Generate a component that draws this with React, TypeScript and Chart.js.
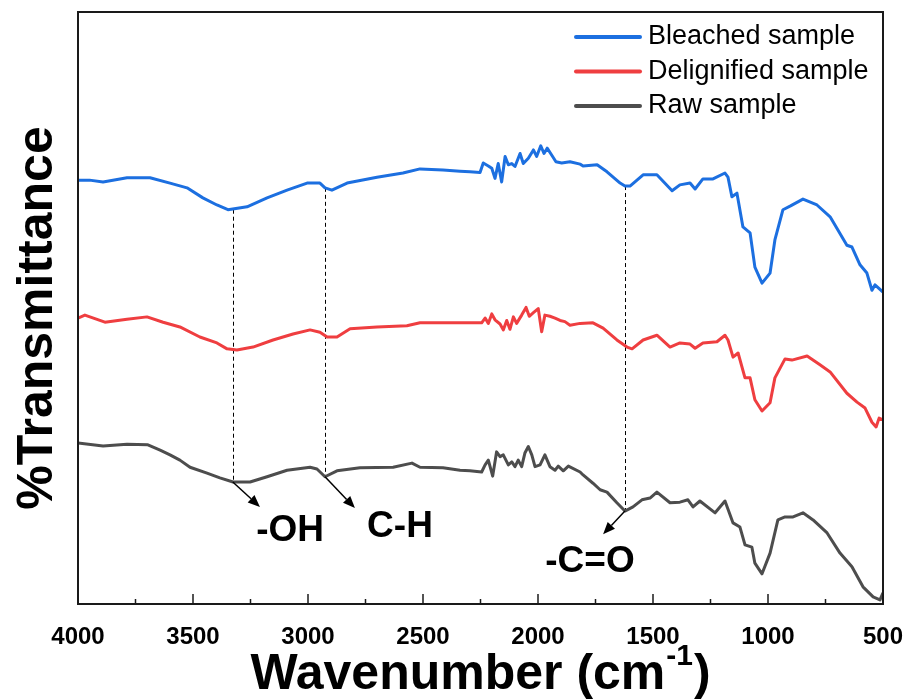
import React, { useEffect, useRef } from "react";
import { Chart, registerables } from "chart.js";

Chart.register(...registerables);

const FONT = "'Liberation Sans', Arial, sans-serif";

// Bleached sample
const bleachedWave = [4000, 3950, 3891, 3787, 3687, 3600, 3526, 3457, 3396, 3348, 3265, 3178, 3091, 3004, 2948, 2926, 2896, 2830, 2700, 2587, 2513, 2413, 2339, 2296, 2252, 2238, 2216, 2201, 2187, 2173, 2158, 2143, 2129, 2114, 2100, 2078, 2064, 2042, 2020, 2006, 1988, 1974, 1960, 1940, 1922, 1897, 1861, 1817, 1804, 1743, 1700, 1643, 1622, 1600, 1543, 1483, 1417, 1383, 1339, 1317, 1283, 1239, 1187, 1174, 1157, 1135, 1109, 1078, 1057, 1026, 991, 970, 935, 904, 848, 787, 730, 657, 635, 600, 570, 548, 535, 500];
const bleachedT = [71.6, 71.6, 71.3, 72.0, 72.0, 71.1, 70.3, 68.6, 67.4, 66.6, 67.1, 68.6, 69.9, 71.1, 71.1, 70.3, 69.9, 71.1, 72.1, 72.8, 73.5, 73.3, 73.1, 73.0, 72.9, 74.5, 74.0, 73.6, 71.9, 74.4, 71.3, 75.6, 74.2, 74.4, 73.9, 76.1, 74.4, 75.3, 76.7, 75.6, 77.4, 76.1, 77.0, 75.8, 74.7, 74.5, 74.7, 74.3, 74.0, 74.2, 73.0, 71.1, 70.6, 70.6, 72.5, 72.5, 69.8, 70.8, 71.1, 70.1, 71.8, 71.8, 72.8, 72.1, 68.8, 69.4, 63.7, 62.7, 56.9, 54.2, 55.9, 61.5, 66.6, 67.2, 68.4, 67.4, 65.4, 60.6, 60.3, 57.3, 55.9, 53.0, 53.9, 52.7];

// Delignified sample
const delignifiedWave = [4000, 3970, 3883, 3787, 3700, 3630, 3557, 3470, 3396, 3352, 3309, 3239, 3152, 3065, 2991, 2948, 2917, 2874, 2817, 2700, 2570, 2513, 2413, 2339, 2296, 2245, 2230, 2216, 2201, 2187, 2165, 2151, 2136, 2122, 2107, 2093, 2071, 2052, 2038, 2020, 1999, 1984, 1970, 1948, 1926, 1904, 1883, 1861, 1817, 1761, 1717, 1657, 1613, 1591, 1543, 1483, 1426, 1383, 1339, 1317, 1283, 1222, 1187, 1174, 1152, 1130, 1100, 1078, 1057, 1026, 991, 970, 926, 896, 830, 774, 730, 657, 613, 578, 548, 530, 517, 500];
const delignifiedT = [48.3, 48.8, 47.6, 48.1, 48.5, 47.6, 46.8, 45.1, 44.1, 43.1, 42.9, 43.4, 44.6, 45.6, 46.3, 45.9, 45.1, 45.1, 46.5, 46.8, 47.0, 47.5, 47.5, 47.5, 47.5, 47.5, 48.3, 47.4, 49.0, 48.0, 47.3, 46.3, 47.9, 46.4, 48.5, 47.4, 48.8, 50.1, 48.6, 49.2, 49.9, 46.0, 48.8, 48.6, 48.3, 47.9, 47.7, 47.1, 47.4, 47.5, 46.6, 44.6, 43.4, 43.1, 44.6, 45.4, 43.4, 44.1, 43.9, 43.2, 44.1, 44.3, 45.4, 44.6, 41.7, 42.4, 38.2, 38.2, 34.5, 32.6, 34.0, 38.2, 41.4, 41.2, 41.9, 40.4, 39.2, 35.6, 34.1, 33.1, 30.7, 29.9, 31.4, 31.1];

// Raw sample
const rawWave = [4000, 3891, 3787, 3696, 3643, 3600, 3557, 3513, 3439, 3383, 3326, 3252, 3178, 3091, 2991, 2961, 2926, 2874, 2774, 2630, 2548, 2513, 2413, 2339, 2296, 2245, 2230, 2216, 2197, 2180, 2165, 2151, 2129, 2114, 2100, 2086, 2071, 2057, 2042, 2027, 2013, 1991, 1970, 1948, 1926, 1912, 1890, 1868, 1817, 1804, 1761, 1730, 1700, 1657, 1622, 1587, 1548, 1513, 1483, 1426, 1383, 1348, 1326, 1296, 1230, 1187, 1152, 1122, 1100, 1070, 1057, 1026, 991, 957, 926, 891, 848, 804, 743, 687, 635, 587, 543, 513, 500];
const rawT = [27.2, 26.7, 27.0, 26.9, 26.0, 25.2, 24.3, 23.1, 22.1, 21.3, 20.6, 20.6, 21.5, 22.6, 23.1, 22.8, 21.5, 22.5, 23.0, 23.1, 23.8, 23.1, 23.0, 22.6, 22.5, 22.3, 23.5, 24.3, 21.6, 25.7, 24.9, 25.2, 23.5, 24.0, 23.2, 24.3, 23.2, 25.5, 26.6, 25.2, 23.2, 23.5, 25.2, 23.2, 22.6, 23.3, 22.5, 23.3, 22.3, 21.8, 20.4, 19.3, 18.9, 17.1, 15.7, 16.4, 17.6, 17.9, 18.9, 17.1, 17.2, 17.6, 16.4, 17.4, 15.4, 17.4, 13.7, 13.0, 10.0, 9.6, 6.9, 5.1, 8.6, 14.2, 14.7, 14.7, 15.4, 14.2, 12.0, 8.6, 6.3, 2.9, 1.2, 0.7, 1.9];

const seriesLabels = ["Bleached sample", "Delignified sample", "Raw sample"];
const seriesColors = ["#1c6fe0", "#ef3e40", "#4d4d4d"];

// Band annotations
const bandWave = [3327, 2926, 1622];
const bandTop = [66.6, 70.3, 70.6];
const bandBottom = [20.6, 21.5, 15.7];
const arrowEndWave = [3209, 2796, 1717];
const arrowEndT = [16.4, 16.2, 11.8];
const bandLabels = ["-OH", "C-H", "-C=O"];
const labelWave = [3078, 2600, 1774];
const labelT = [12.3, 13.0, 7.1];

const xMin = 500;
const xMax = 4000;
const xStep = 500;

const toPoints = (xs: number[], ys: number[]) => xs.map((x, i) => ({ x, y: ys[i] }));

const decorPlugin = {
  id: "decor",
  beforeDatasetsDraw(chart: any) {
    const { ctx, scales } = chart;
    const x = scales.x;
    const y = scales.y;
    ctx.save();
    ctx.strokeStyle = "#000";
    ctx.lineWidth = 1;
    ctx.setLineDash([4, 3]);
    bandWave.forEach((w, i) => {
      const px = Math.round(x.getPixelForValue(w)) + 0.5;
      ctx.beginPath();
      ctx.moveTo(px, y.getPixelForValue(bandTop[i]));
      ctx.lineTo(px, y.getPixelForValue(bandBottom[i]));
      ctx.stroke();
    });
    ctx.restore();
  },
  afterDatasetsDraw(chart: any) {
    const { ctx, scales, chartArea: ca } = chart;
    const x = scales.x;
    const y = scales.y;
    ctx.save();

    // arrows
    ctx.strokeStyle = "#000";
    ctx.fillStyle = "#000";
    ctx.lineWidth = 1.5;
    bandWave.forEach((w, i) => {
      const x0 = x.getPixelForValue(w);
      const y0 = y.getPixelForValue(bandBottom[i]);
      const x1 = x.getPixelForValue(arrowEndWave[i]);
      const y1 = y.getPixelForValue(arrowEndT[i]);
      const ang = Math.atan2(y1 - y0, x1 - x0);
      const hl = 12;
      const hw = 5;
      const bx = x1 - hl * Math.cos(ang);
      const by = y1 - hl * Math.sin(ang);
      ctx.beginPath();
      ctx.moveTo(x0, y0);
      ctx.lineTo(bx, by);
      ctx.stroke();
      ctx.beginPath();
      ctx.moveTo(x1, y1);
      ctx.lineTo(bx + hw * Math.sin(ang), by - hw * Math.cos(ang));
      ctx.lineTo(bx - hw * Math.sin(ang), by + hw * Math.cos(ang));
      ctx.closePath();
      ctx.fill();
    });

    // band labels
    ctx.font = `bold 37px ${FONT}`;
    ctx.textAlign = "center";
    ctx.textBaseline = "middle";
    bandLabels.forEach((t, i) => {
      ctx.fillText(t, x.getPixelForValue(labelWave[i]), y.getPixelForValue(labelT[i]));
    });

    // frame
    ctx.strokeStyle = "#1a1a1a";
    ctx.lineWidth = 2;
    ctx.strokeRect(ca.left, ca.top, ca.right - ca.left, ca.bottom - ca.top);

    // inward ticks
    ctx.lineWidth = 1.5;
    x.ticks.forEach((t: any) => {
      const px = x.getPixelForValue(t.value);
      ctx.beginPath();
      ctx.moveTo(px, ca.bottom);
      ctx.lineTo(px, ca.bottom - 10);
      ctx.stroke();
      const m = t.value + xStep / 2;
      if (m < xMax) {
        const pm = x.getPixelForValue(m);
        ctx.beginPath();
        ctx.moveTo(pm, ca.bottom);
        ctx.lineTo(pm, ca.bottom - 5);
        ctx.stroke();
      }
    });

    // legend
    ctx.font = `27px ${FONT}`;
    ctx.textAlign = "left";
    ctx.textBaseline = "middle";
    chart.data.datasets.forEach((ds: any, i: number) => {
      const ly = ca.top + 25 + i * 34.5;
      ctx.strokeStyle = ds.borderColor;
      ctx.lineWidth = 4;
      ctx.lineCap = "round";
      ctx.beginPath();
      ctx.moveTo(ca.right - 307, ly);
      ctx.lineTo(ca.right - 243, ly);
      ctx.stroke();
      ctx.fillStyle = "#000";
      ctx.fillText(ds.label, ca.right - 235, ly);
    });

    // x title with superscript
    ctx.fillStyle = "#000";
    ctx.textBaseline = "alphabetic";
    const mainFont = `bold 50px ${FONT}`;
    const supFont = `bold 30px ${FONT}`;
    ctx.font = mainFont;
    const t1 = "Wavenumber (cm";
    const t3 = ")";
    const w1 = ctx.measureText(t1).width;
    const w3 = ctx.measureText(t3).width;
    ctx.font = supFont;
    const t2 = "-1";
    const w2 = ctx.measureText(t2).width;
    const total = w1 + w2 + w3 + 2;
    const cx = (ca.left + ca.right) / 2;
    const base = ca.bottom + 85;
    let sx = cx - total / 2;
    ctx.textAlign = "left";
    ctx.font = mainFont;
    ctx.fillText(t1, sx, base);
    sx += w1 + 1;
    ctx.font = supFont;
    ctx.fillText(t2, sx, base - 24);
    sx += w2 + 1;
    ctx.font = mainFont;
    ctx.fillText(t3, sx, base);

    // y title
    ctx.translate(ca.left - 26, (ca.top + ca.bottom) / 2 + 10);
    ctx.rotate(-Math.PI / 2);
    ctx.textAlign = "center";
    ctx.font = mainFont;
    ctx.fillText("%Transmittance", 0, 0);

    ctx.restore();
  },
};

export default function App() {
  const ref = useRef<HTMLCanvasElement | null>(null);

  useEffect(() => {
    if (!ref.current) return;
    const chart = new Chart(ref.current, {
      type: "line",
      data: {
        datasets: [
          { label: seriesLabels[0], data: toPoints(bleachedWave, bleachedT), borderColor: seriesColors[0] },
          { label: seriesLabels[1], data: toPoints(delignifiedWave, delignifiedT), borderColor: seriesColors[1] },
          { label: seriesLabels[2], data: toPoints(rawWave, rawT), borderColor: seriesColors[2] },
        ].map((d) => ({
          ...d,
          borderWidth: 3,
          pointRadius: 0,
          tension: 0,
          fill: false,
          borderJoinStyle: "round" as const,
        })),
      },
      options: {
        animation: false,
        responsive: false,
        maintainAspectRatio: false,
        layout: { padding: { left: 0, right: 24, top: 12, bottom: 0 } },
        plugins: { legend: { display: false }, tooltip: { enabled: false } },
        events: [],
        scales: {
          x: {
            type: "linear",
            min: xMin,
            max: xMax,
            reverse: true,
            grid: { display: false },
            border: { display: false },
            ticks: {
              stepSize: xStep,
              color: "#000",
              padding: 11,
              maxRotation: 0,
              font: { family: FONT, size: 24, weight: "bold" },
              callback: (v: any) => String(v),
            },
            afterFit: (s: any) => {
              s.height = 96;
              s.paddingLeft = 0;
              s.paddingRight = 0;
            },
          },
          y: {
            type: "linear",
            min: 0,
            max: 100,
            grid: { display: false },
            border: { display: false },
            ticks: { display: false },
            afterFit: (s: any) => {
              s.width = 78;
            },
          },
        },
      },
      plugins: [decorPlugin],
    });
    return () => chart.destroy();
  }, []);

  return (
    <div style={{ position: "fixed", left: 0, top: 0, width: 907, height: 700 }}>
      <canvas ref={ref} width={907} height={700} style={{ display: "block" }} />
    </div>
  );
}
